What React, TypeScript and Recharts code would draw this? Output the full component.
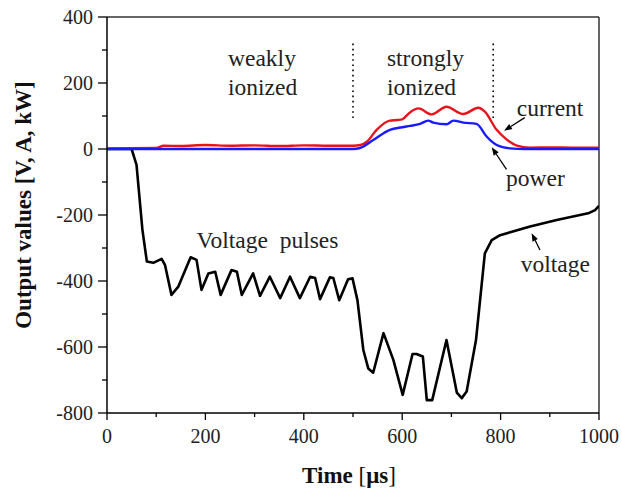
import React from 'react';
import { LineChart, Line, XAxis, YAxis, ReferenceLine, ReferenceDot, Label } from 'recharts';

const FONT = "'Liberation Serif', 'Times New Roman', serif";

// Voltage trace [V]
const voltageTime = [0, 50, 60, 72, 81, 94, 111, 118, 131, 145, 170, 182, 192, 206, 220, 231, 253, 264, 274, 297, 311, 331, 352, 372, 392, 413, 423, 433, 453, 460, 472, 490, 499, 509, 521, 531, 541, 562, 582, 601, 621, 629, 642, 650, 661, 690, 711, 721, 731, 750, 768, 782, 799, 860, 914, 978, 992, 1000];
const voltageValues = [0, 0, -48, -245, -341, -345, -333, -352, -442, -417, -328, -336, -427, -377, -372, -442, -367, -372, -442, -377, -445, -387, -452, -387, -452, -387, -391, -455, -389, -391, -458, -395, -392, -458, -609, -665, -678, -558, -639, -745, -621, -621, -629, -761, -761, -579, -738, -755, -735, -579, -316, -276, -261, -235, -215, -195, -185, -172];

// Current trace [A]
const currentTime = [0, 100, 115, 150, 200, 250, 300, 350, 400, 450, 500, 515, 528, 548, 575, 590, 600, 615, 633, 660, 690, 724, 755, 768, 792, 812, 833, 860, 900, 950, 1000];
const currentValues = [2, 3, 10, 9, 12, 10, 11, 9, 11, 10, 10, 12, 22, 58, 86, 88, 90, 110, 123, 105, 128, 106, 125, 113, 58, 29, 10, 4, 5, 4, 4];

// Power trace [kW]
const powerTime = [0, 500, 514, 541, 575, 600, 616, 636, 653, 663, 690, 704, 724, 751, 772, 792, 819, 850, 1000];
const powerValues = [0, 0, 3, 27, 58, 66, 70, 76, 86, 80, 75, 86, 80, 76, 37, 12, 2, 0, 0];

const xTicks = [0, 100, 200, 300, 400, 500, 600, 700, 800, 900, 1000];
const yTicks = [-800, -700, -600, -500, -400, -300, -200, -100, 0, 100, 200, 300, 400];
const xMajorStep = 200;
const yMajorStep = 200;

const voltageData = voltageTime.map((t, i) => ({ t, v: voltageValues[i] }));
const currentData = currentTime.map((t, i) => ({ t, v: currentValues[i] }));
const powerData = powerTime.map((t, i) => ({ t, v: powerValues[i] }));

const serif = (size: number, weight: string = 'normal') => ({ fontFamily: FONT, fontSize: size, fontWeight: weight as any });

const YTick = (props: any) => {
  const { x, y, payload } = props;
  const major = payload.value % yMajorStep === 0;
  return (
    <g>
      <line x1={x - (major ? 9 : 5)} x2={x} y1={y} y2={y} stroke="#000" strokeWidth={1.3} />
      {major && (
        <text x={x - 14} y={y} dy="0.35em" textAnchor="end" style={serif(20)} fill="#222">
          {payload.value}
        </text>
      )}
    </g>
  );
};

const XTick = (props: any) => {
  const { x, y, payload } = props;
  const major = payload.value % xMajorStep === 0;
  return (
    <g>
      <line x1={x} x2={x} y1={y} y2={y + (major ? 7 : 4)} stroke="#000" strokeWidth={1.3} />
      {major && (
        <text x={x} y={y + 30} textAnchor="middle" style={serif(20)} fill="#222">
          {payload.value}
        </text>
      )}
    </g>
  );
};

const renderYTitle = (props: any) => {
  const vb = props.viewBox || { x: 0, y: 17, width: 107, height: 396 };
  const cx = vb.x + 23;
  const cy = vb.y + vb.height / 2 - 10;
  return (
    <text x={cx} y={cy} transform={`rotate(-90 ${cx} ${cy})`} textAnchor="middle" dominantBaseline="central" style={serif(23, 'bold')} fill="#111">
      Output values [V, A, kW]
    </text>
  );
};

const renderXTitle = (props: any) => {
  const vb = props.viewBox || { x: 107, y: 413, width: 492, height: 76 };
  const cx = vb.x + vb.width / 2 - 4;
  const cy = vb.y + 70;
  return (
    <text x={cx} y={cy} textAnchor="middle" style={serif(23)} fill="#111">
      <tspan fontWeight="bold">Time </tspan>
      <tspan fontWeight="normal">[</tspan>
      <tspan fontWeight="bold">μs</tspan>
      <tspan fontWeight="normal">]</tspan>
    </text>
  );
};

const textShape = (lines: string[], size = 23.5, lineGap = 29) => (props: any) => {
  const { cx, cy } = props;
  return (
    <text x={cx} y={cy} textAnchor="start" style={{ ...serif(size), whiteSpace: 'pre' }} fill="#222">
      {lines.map((l, i) => (
        <tspan key={i} x={cx} dy={i === 0 ? 0 : lineGap}>{l}</tspan>
      ))}
    </text>
  );
};

const arrowShape = (props: any) => {
  const { x1, y1, x2, y2 } = props;
  const dx = x2 - x1;
  const dy = y2 - y1;
  const len = Math.sqrt(dx * dx + dy * dy) || 1;
  const ux = dx / len;
  const uy = dy / len;
  const hl = 8;
  const hw = 3;
  const bx = x2 - ux * hl;
  const by = y2 - uy * hl;
  const p = `${x2},${y2} ${bx - uy * hw},${by + ux * hw} ${bx + uy * hw},${by - ux * hw}`;
  return (
    <g>
      <line x1={x1} y1={y1} x2={bx} y2={by} stroke="#000" strokeWidth={1.3} />
      <polygon points={p} fill="#000" />
    </g>
  );
};

export default function App() {
  return (
    <div style={{ position: 'absolute', left: 0, top: 0, background: '#fff' }}>
      <LineChart width={622} height={489} margin={{ top: 17, right: 23, bottom: 0, left: 0 }}>
        <XAxis
          dataKey="t"
          type="number"
          domain={[0, 1000]}
          ticks={xTicks}
          interval={0}
          height={76}
          tickSize={0}
          tickMargin={0}
          tickLine={false}
          axisLine={{ stroke: '#000', strokeWidth: 1.5 }}
          tick={<XTick />}
          allowDataOverflow
        >
          <Label content={renderXTitle} />
        </XAxis>
        <YAxis
          type="number"
          domain={[-800, 400]}
          ticks={yTicks}
          interval={0}
          width={107}
          tickSize={0}
          tickMargin={0}
          tickLine={false}
          axisLine={{ stroke: '#000', strokeWidth: 1.5 }}
          tick={<YTick />}
          allowDataOverflow
        >
          <Label content={renderYTitle} />
        </YAxis>
        <ReferenceLine y={400} stroke="#333" strokeWidth={1.5} />
        <ReferenceLine x={1000} stroke="#333" strokeWidth={1.5} />
        <ReferenceLine segment={[{ x: 500, y: 94 }, { x: 500, y: 324 }]} stroke="#000" strokeWidth={1.6} strokeDasharray="1.6 3.6" />
        <ReferenceLine segment={[{ x: 785, y: 94 }, { x: 785, y: 324 }]} stroke="#000" strokeWidth={1.6} strokeDasharray="1.6 3.6" />
        <Line data={voltageData} dataKey="v" type="linear" stroke="#000" strokeWidth={2.6} dot={false} isAnimationActive={false} strokeLinejoin="round" />
        <Line data={currentData} dataKey="v" type="monotone" stroke="#e8141c" strokeWidth={2.4} dot={false} isAnimationActive={false} />
        <Line data={powerData} dataKey="v" type="monotone" stroke="#1a1aff" strokeWidth={2.4} dot={false} isAnimationActive={false} />
        <ReferenceLine segment={[{ x: 849, y: 95 }, { x: 807, y: 55 }]} shape={arrowShape} />
        <ReferenceLine segment={[{ x: 812, y: -62 }, { x: 782, y: 5 }]} shape={arrowShape} />
        <ReferenceLine segment={[{ x: 880, y: -306 }, { x: 863, y: -255 }]} shape={arrowShape} />
        <ReferenceDot x={246} y={251} r={0} shape={textShape(['weakly', 'ionized'])} />
        <ReferenceDot x={569} y={251} r={0} shape={textShape(['strongly', 'ionized'])} />
        <ReferenceDot x={833} y={100} r={0} shape={textShape(['current'])} />
        <ReferenceDot x={811} y={-112} r={0} shape={textShape(['power'])} />
        <ReferenceDot x={841} y={-372} r={0} shape={textShape(['voltage'])} />
        <ReferenceDot x={182} y={-300} r={0} shape={textShape(['Voltage  pulses'])} />
      </LineChart>
    </div>
  );
}
